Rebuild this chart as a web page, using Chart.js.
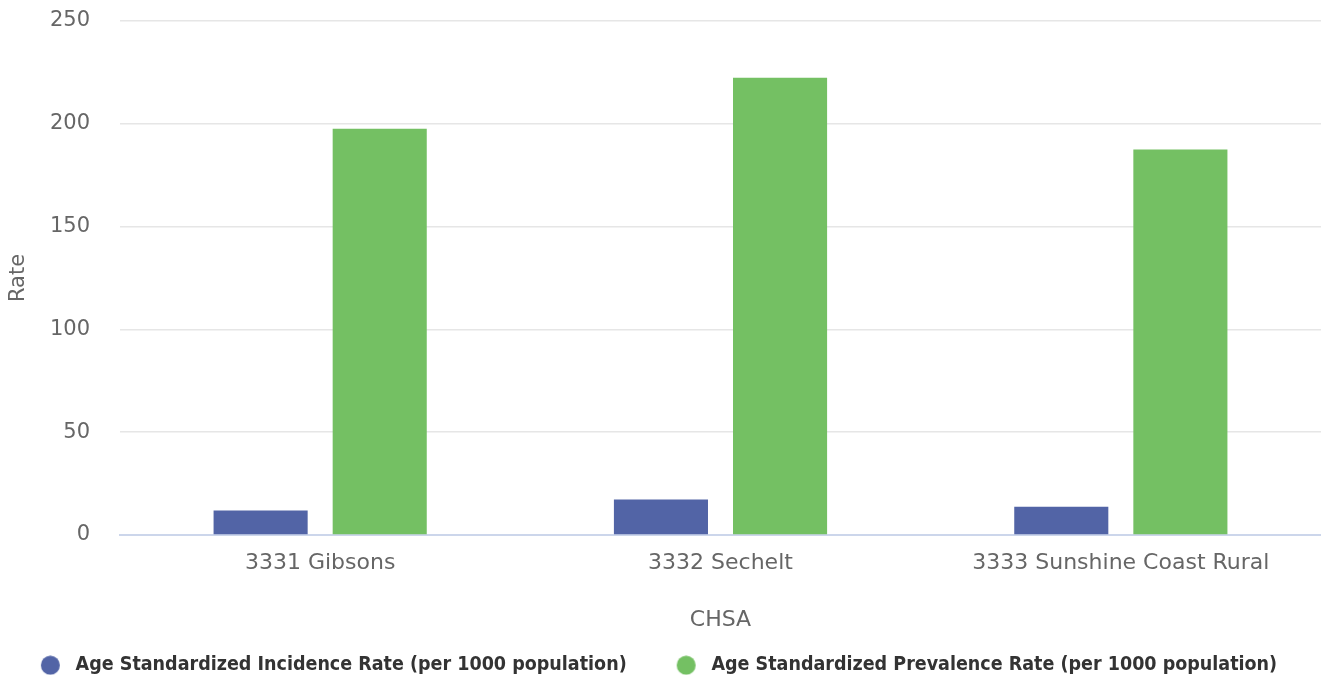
<!DOCTYPE html>
<html>
<head>
<meta charset="utf-8">
<script src="https://cdn.jsdelivr.net/npm/chart.js@4.4.0/dist/chart.umd.min.js"></script>
<style>
  html, body { margin: 0; padding: 0; background: #fff; }
  #wrap { width: 1321px; height: 679px; }
</style>
</head>
<body>
<div id="wrap"><canvas id="rateChart"></canvas></div>
<script>
const areas = ['3331 Gibsons', '3332 Sechelt', '3333 Sunshine Coast Rural'];
const incidence = [11.9, 17.3, 13.7];
const prevalence = [197.6, 222.4, 187.5];
const yTicks = [0, 50, 100, 150, 200, 250];
const colors = ['#5264a6', '#74c063'];

Chart.defaults.font.family = '"DejaVu Sans", Verdana, sans-serif';

// legend dot: small canvas, circle sits a bit right so the gap before the text matches
const dotWidth = 41;
function makeDot(color) {
    const c = document.createElement('canvas');
    c.width = dotWidth;
    c.height = 20;
    const g = c.getContext('2d');
    g.fillStyle = color;
    g.beginPath();
    g.arc(dotWidth - 15.5, 10, 9.5, 0, Math.PI * 2);
    g.fill();
    return c;
}
const dots = colors.map(makeDot);

const ctx = document.getElementById('rateChart').getContext('2d');
const myChart = new Chart(ctx, {
    type: 'bar',
    data: {
        labels: areas,
        datasets: [{
            label: 'Age Standardized Incidence Rate (per 1000 population)',
            data: incidence,
            backgroundColor: colors[0],
            borderWidth: 0,
            categoryPercentage: 0.595,
            barPercentage: 0.79
        }, {
            label: 'Age Standardized Prevalence Rate (per 1000 population)',
            data: prevalence,
            backgroundColor: colors[1],
            borderWidth: 0,
            categoryPercentage: 0.595,
            barPercentage: 0.79
        }]
    },
    options: {
        responsive: true,
        maintainAspectRatio: false,
        animation: false,
        // negative left padding only nudges the centred legend to the left
        layout: { padding: { top: 21, right: 0, left: -19, bottom: -6 } },
        plugins: {
            tooltip: { enabled: false },
            legend: {
                position: 'bottom',
                labels: {
                    usePointStyle: true,
                    pointStyleWidth: dotWidth,
                    boxHeight: 20,
                    padding: 34,
                    color: '#333333',
                    font: { size: 19.5, weight: 'bold', family: '"DejaVu Sans Condensed", "DejaVu Sans", sans-serif' },
                    generateLabels: (chart) =>
                        Chart.defaults.plugins.legend.labels.generateLabels(chart)
                            .map((item, i) => ({ ...item, pointStyle: dots[i] }))
                }
            }
        },
        scales: {
            x: {
                grid: { display: false, drawTicks: false },
                border: { color: '#ccd6eb', width: 2 },
                ticks: { color: '#666666', padding: 15, font: { size: 22 } },
                title: {
                    display: true,
                    text: 'CHSA',
                    color: '#666666',
                    font: { size: 22 },
                    padding: { top: 15, bottom: -11.7 }
                },
                afterFit: (s) => { s.height = 86.5; }
            },
            y: {
                min: 0,
                max: 250,
                afterBuildTicks: (axis) => { axis.ticks = yTicks.map(v => ({ value: v })); },
                grid: { color: '#e6e6e6', lineWidth: 1.5, drawTicks: false },
                border: { display: false },
                ticks: { color: '#666666', padding: 30, font: { size: 21 } },
                title: {
                    display: true,
                    text: 'Rate',
                    color: '#666666',
                    font: { size: 21 },
                    padding: { top: 25, bottom: 0 }
                },
                afterFit: (s) => { s.width = 139; s.paddingTop = 0; s.paddingBottom = 0; }
            }
        }
    }
});
</script>
</body>
</html>
